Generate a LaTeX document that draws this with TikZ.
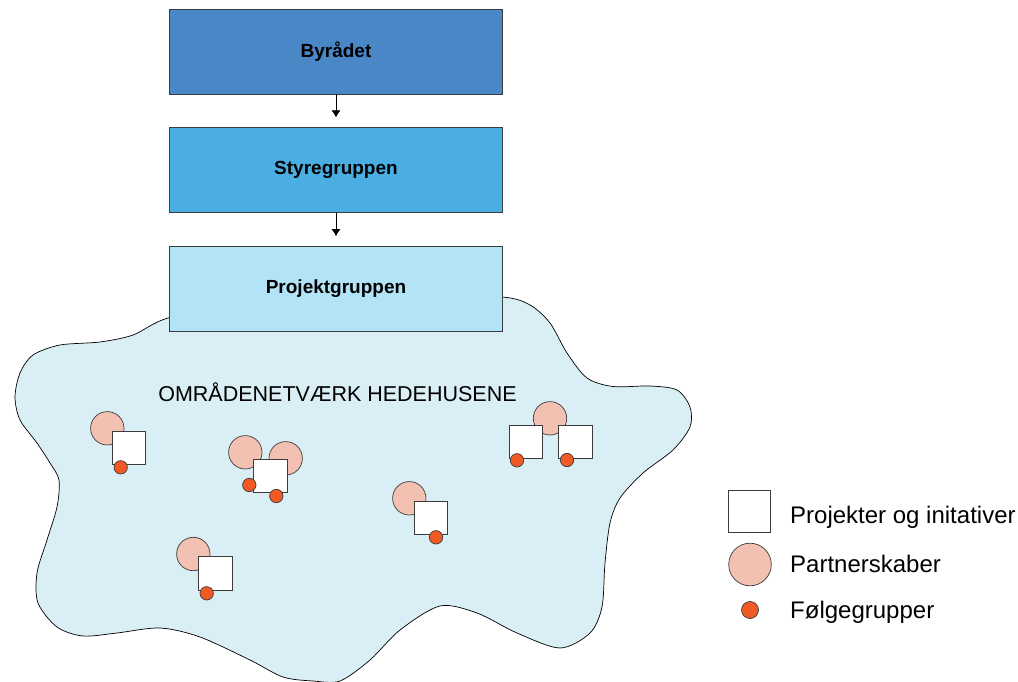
\documentclass[tikz,border=0pt]{standalone}
\usepackage{fontspec}
\setmainfont{Liberation Sans}
\usetikzlibrary{arrows.meta}
\definecolor{kant}{HTML}{3C3C3C}
\definecolor{byraad}{HTML}{4A87C7}
\definecolor{styre}{HTML}{4BAEE2}
\definecolor{projekt}{HTML}{B3E3F7}
\definecolor{omraade}{HTML}{DAEEF5}
\definecolor{partnerfarve}{HTML}{F3C1B1}
\definecolor{folgefarve}{HTML}{F15A24}
\begin{document}
\begin{tikzpicture}[x=1pt,y=-1pt,
  boks/.style={draw=kant,line width=0.8pt,minimum width=333pt,minimum height=84.5pt,inner sep=0pt,font=\fontsize{19}{23}\selectfont\bfseries},
  partner/.style={circle,draw=kant,fill=partnerfarve,line width=0.7pt,minimum size=33.4pt,inner sep=0pt},
  projektboks/.style={rectangle,draw=kant,fill=white,line width=0.7pt,minimum size=33.4pt,inner sep=0pt},
  folge/.style={circle,draw=kant,fill=folgefarve,line width=0.7pt,minimum size=13.4pt,inner sep=0pt},
  forklaring/.style={anchor=base west,inner sep=0pt,font=\fontsize{24}{28}\selectfont},
  pil/.style={-{Latex[length=7pt,width=9pt]},line width=0.7pt,shorten >=10pt}]
\useasboundingbox (0,0) rectangle (1018,682);

\draw[draw=black,fill=omraade,line width=0.7pt] plot[smooth cycle,tension=0.5] coordinates {
  (502,297) (530,305) (550,323) (567,353) (587,378) (613,386.5) (650,386) (677,390)
  (690,407) (690,427) (673,450) (643,473) (620,498) (610,523) (605,563) (602,607)
  (590,633) (560,648) (517,633) (477,613) (440,606) (400,630) (370,660) (340,681)
  (313,681) (283,677) (250,660) (200,637) (160,628) (117,633) (83,636) (57,627)
  (38,603) (37,573) (47,540) (57,507) (59,480) (50,463) (37,443) (20,420)
  (15,397) (20,373) (33,355) (60,345) (100,342) (133,335) (168,318) (250,300) (420,296)};

\node[boks,fill=byraad] (byr) at (336,51.7) {Byrådet};
\node[boks,fill=styre] (sty) at (336,170) {Styregruppen};
\node[boks,fill=projekt] (pro) at (336,288.8) {Projektgruppen};
\draw[pil] (byr) -- (sty);
\draw[pil] (sty) -- (pro);

\node[anchor=base,inner sep=0pt,font=\fontsize{21.5}{25}\selectfont] (titel) at (337.5,401) {OMRÅDENETVÆRK HEDEHUSENE};

\node[partner] (c1) at (107.3,428.3) {};
\node[partner] (c2a) at (245.3,452.3) {};
\node[partner] (c2b) at (285.7,458.3) {};
\node[partner] (c3) at (550,418.3) {};
\node[partner] (c4) at (409.3,498.3) {};
\node[partner] (c5) at (193.3,554) {};

\node[projektboks] (p1) at (129,447.7) {};
\node[projektboks] (p2) at (270.5,476) {};
\node[projektboks] (p3a) at (525.7,441.8) {};
\node[projektboks] (p3b) at (575.2,441.8) {};
\node[projektboks] (p4) at (431,517.7) {};
\node[projektboks] (p5) at (215.3,573.3) {};

\node[folge] (f1) at (120.7,467.3) {};
\node[folge] (f2a) at (249.3,485) {};
\node[folge] (f2b) at (276.3,496) {};
\node[folge] (f3a) at (517,460.3) {};
\node[folge] (f3b) at (567,460) {};
\node[folge] (f4) at (436,537.3) {};
\node[folge] (f5) at (206.7,593.3) {};

\node[projektboks,minimum size=42pt] (legp) at (749.7,511) {};
\node[partner,minimum size=42.6pt] (legc) at (750,564.5) {};
\node[folge,minimum size=17pt] (legf) at (750,610) {};
\node[forklaring] (tp) at (790,523.3) {Projekter og initativer};
\node[forklaring] (tc) at (790,572.7) {Partnerskaber};
\node[forklaring] (tf) at (790,618.3) {Følgegrupper};
\end{tikzpicture}
\end{document}
